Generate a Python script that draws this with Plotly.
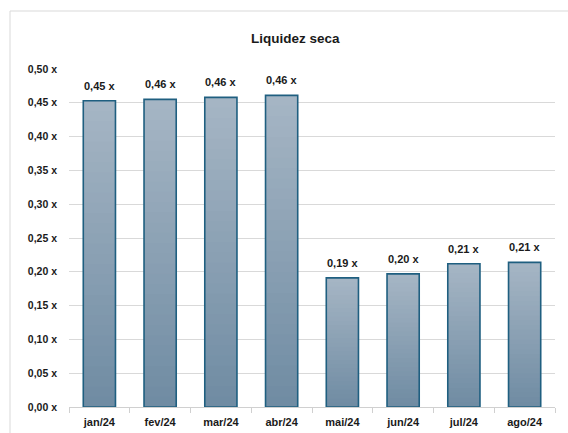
import plotly.graph_objects as go

categories = ["jan/24", "fev/24", "mar/24", "abr/24", "mai/24", "jun/24", "jul/24", "ago/24"]
values = [0.453, 0.455, 0.458, 0.461, 0.191, 0.197, 0.212, 0.214]
tick_vals = [0.0, 0.05, 0.10, 0.15, 0.20, 0.25, 0.30, 0.35, 0.40, 0.45, 0.50]
tick_text = ["0,00 x", "0,05 x", "0,10 x", "0,15 x", "0,20 x", "0,25 x", "0,30 x", "0,35 x", "0,40 x", "0,45 x", "0,50 x"]
labels = ["0,45 x", "0,46 x", "0,46 x", "0,46 x", "0,19 x", "0,20 x", "0,21 x", "0,21 x"]

FONT = "Liberation Sans, Arial, sans-serif"
top_c = (0xA5, 0xB5, 0xC4)
bot_c = (0x70, 0x8C, 0xA3)
N = 30
W = 0.53

L, R, T, B = 69, 13, 69, 26
PW, PH = 568 - L - R, 433 - T - B

fig = go.Figure()
for i in range(N):
    t = i / (N - 1)
    c = tuple(round(bot_c[k] + (top_c[k] - bot_c[k]) * t) for k in range(3))
    frac = min(1.0 / N * 2.5, 1 - i / N)
    fig.add_trace(go.Bar(
        x=categories,
        y=[v * frac for v in values],
        base=[v * i / N for v in values],
        width=W,
        marker=dict(color="rgb(%d,%d,%d)" % c, line=dict(width=0)),
        hoverinfo="skip", showlegend=False,
    ))
fig.add_trace(go.Bar(
    x=categories, y=values, width=W,
    marker=dict(color="rgba(0,0,0,0)", line=dict(color="#1F5F80", width=1.6)),
    showlegend=False,
))

annotations = [dict(x=c, y=v, text=lab, xref="x", yref="y", showarrow=False,
                    yanchor="bottom", yshift=7,
                    font=dict(family=FONT, size=11, color="#1a1a1a", weight="bold"))
               for c, v, lab in zip(categories, values, labels)]
annotations.append(dict(text="Liquidez seca", xref="paper", yref="paper",
                        x=(295 - L) / PW, y=(433 - B - 38) / PH, showarrow=False,
                        xanchor="center", yanchor="middle",
                        font=dict(family=FONT, size=13.5, color="#1a1a1a", weight="bold")))

fig.update_layout(
    width=568, height=433,
    margin=dict(l=L, r=R, t=T, b=B, autoexpand=False),
    paper_bgcolor="white", plot_bgcolor="white",
    barmode="overlay",
    font=dict(family=FONT, size=11, color="#1a1a1a"),
    xaxis=dict(
        type="category", showgrid=False, showline=True, linecolor="#d0d0d0", linewidth=1,
        ticks="outside", tickson="boundaries", ticklen=5, tickcolor="#d0d0d0",
        ticklabelstandoff=5, automargin=False,
        tickfont=dict(family=FONT, size=11, color="#1a1a1a", weight="bold"),
    ),
    yaxis=dict(
        range=[0, 0.5], tickvals=tick_vals, ticktext=tick_text,
        showgrid=True, gridcolor="#d9d9d9", gridwidth=1, zeroline=False,
        showline=False, ticks="", ticklabelstandoff=11, automargin=False,
        tickfont=dict(family=FONT, size=10.5, color="#1a1a1a", weight="bold"),
    ),
    shapes=[dict(type="rect", xref="paper", yref="paper",
                 x0=(10 - L) / PW, x1=(590 - L) / PW, y0=-40 / PH, y1=(433 - B - 11) / PH,
                 line=dict(color="#d9d9d9", width=1), fillcolor="rgba(0,0,0,0)", layer="below")],
    annotations=annotations,
)
fig.write_html("out.html", config={"displayModeBar": False},
               post_script="document.body.style.margin='0';document.body.style.overflow='hidden';")
